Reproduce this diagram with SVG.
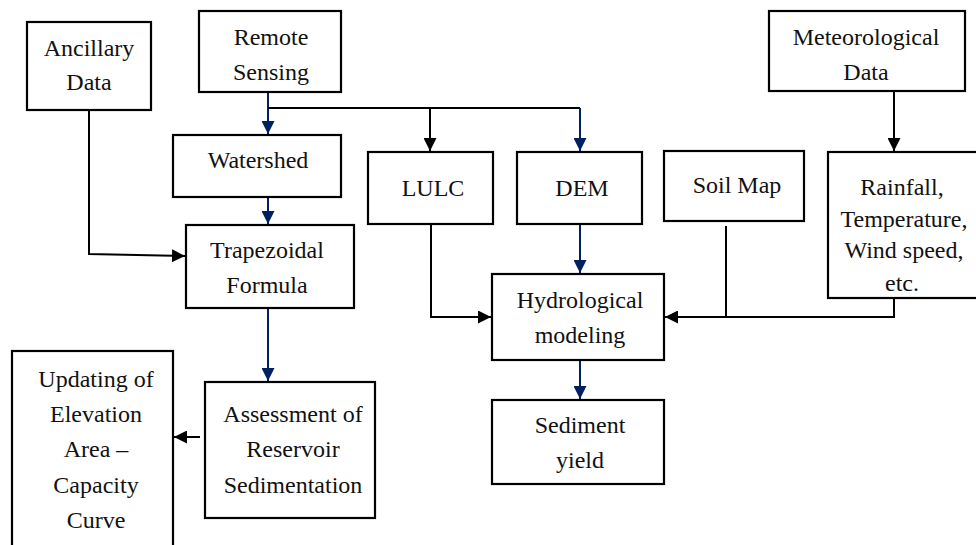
<svg xmlns="http://www.w3.org/2000/svg" width="976" height="545" viewBox="0 0 976 545">
<style>
.box{fill:#fff;stroke:#000;stroke-width:2.2}
.t{font-size:24px;fill:#111;text-anchor:middle}
.k{fill:none;stroke:#000;stroke-width:2}
.b{fill:none;stroke:#002060;stroke-width:2}
</style>
<defs>
<marker id="ak" markerUnits="userSpaceOnUse" markerWidth="13" markerHeight="13" refX="12" refY="6" orient="auto" viewBox="0 0 12 12"><path d="M0,0 L12,6 L0,12 z" fill="#000"/></marker>
<marker id="ab" markerUnits="userSpaceOnUse" markerWidth="13" markerHeight="13" refX="12" refY="6" orient="auto" viewBox="0 0 12 12"><path d="M0,0 L12,6 L0,12 z" fill="#002060"/></marker>
</defs>
<rect width="976" height="545" fill="#fff"/>
<g id="connectors">
<path class="b" d="M268,92 V134" marker-end="url(#ab)"/>
<path class="k" d="M268,108 H580"/>
<path class="k" d="M430,108 V151" marker-end="url(#ak)"/>
<path class="b" d="M580,108 V151" marker-end="url(#ab)"/>
<path class="b" d="M268,197 V224" marker-end="url(#ab)"/>
<path class="k" d="M89,110 V254 L185,256" marker-end="url(#ak)"/>
<path class="b" d="M268,308 V381" marker-end="url(#ab)"/>
<path class="k" d="M200,437 H174" marker-end="url(#ak)"/>
<path class="k" d="M894,91 V151" marker-end="url(#ak)"/>
<path class="k" d="M431,224 V317 H491" marker-end="url(#ak)"/>
<path class="b" d="M580,224 V273" marker-end="url(#ab)"/>
<path class="k" d="M726,226 V317"/>
<path class="k" d="M894,298 V317 H665" marker-end="url(#ak)"/>
<path class="b" d="M580,360 V399" marker-end="url(#ab)"/>
</g>
<g font-family="Liberation Serif, Tinos, Times New Roman, serif">
<g id="ancillary"><rect class="box" x="27" y="22" width="124" height="88"/><text class="t" x="89" y="56">Ancillary</text><text class="t" x="89" y="90">Data</text></g>
<g id="remote"><rect class="box" x="199" y="11" width="142" height="81"/><text class="t" x="271" y="45">Remote</text><text class="t" x="271" y="80">Sensing</text></g>
<g id="watershed"><rect class="box" x="173" y="135" width="168" height="62"/><text class="t" x="258" y="168">Watershed</text></g>
<g id="lulc"><rect class="box" x="368" y="152" width="125" height="72"/><text class="t" x="433" y="196">LULC</text></g>
<g id="dem"><rect class="box" x="517" y="152" width="125" height="72"/><text class="t" x="582" y="196">DEM</text></g>
<g id="soil"><rect class="box" x="664" y="151" width="140" height="70"/><text class="t" x="737" y="193">Soil Map</text></g>
<g id="meteo"><rect class="box" x="769" y="11" width="196" height="80"/><text class="t" x="866" y="45">Meteorological</text><text class="t" x="866" y="80">Data</text></g>
<g id="rainfall"><rect class="box" x="828" y="152" width="160" height="146"/><text class="t" x="902" y="195">Rainfall,</text><text class="t" x="904" y="227">Temperature,</text><text class="t" x="904" y="258">Wind speed,</text><text class="t" x="902" y="291">etc.</text></g>
<g id="trapezoidal"><rect class="box" x="186" y="225" width="168" height="83"/><text class="t" x="267" y="258">Trapezoidal</text><text class="t" x="267" y="293">Formula</text></g>
<g id="hydro"><rect class="box" x="492" y="274" width="172" height="86"/><text class="t" x="580" y="308">Hydrological</text><text class="t" x="580" y="343">modeling</text></g>
<g id="sediment"><rect class="box" x="492" y="400" width="172" height="84"/><text class="t" x="580" y="433">Sediment</text><text class="t" x="580" y="468">yield</text></g>
<g id="assessment"><rect class="box" x="205" y="382" width="170" height="136"/><text class="t" x="293" y="422">Assessment of</text><text class="t" x="293" y="457">Reservoir</text><text class="t" x="293" y="493">Sedimentation</text></g>
<g id="updating"><rect class="box" x="12" y="351" width="161" height="210"/><text class="t" x="96" y="387">Updating of</text><text class="t" x="96" y="422">Elevation</text><text class="t" x="96" y="457">Area –</text><text class="t" x="96" y="493">Capacity</text><text class="t" x="96" y="528">Curve</text></g>
</g>
</svg>
